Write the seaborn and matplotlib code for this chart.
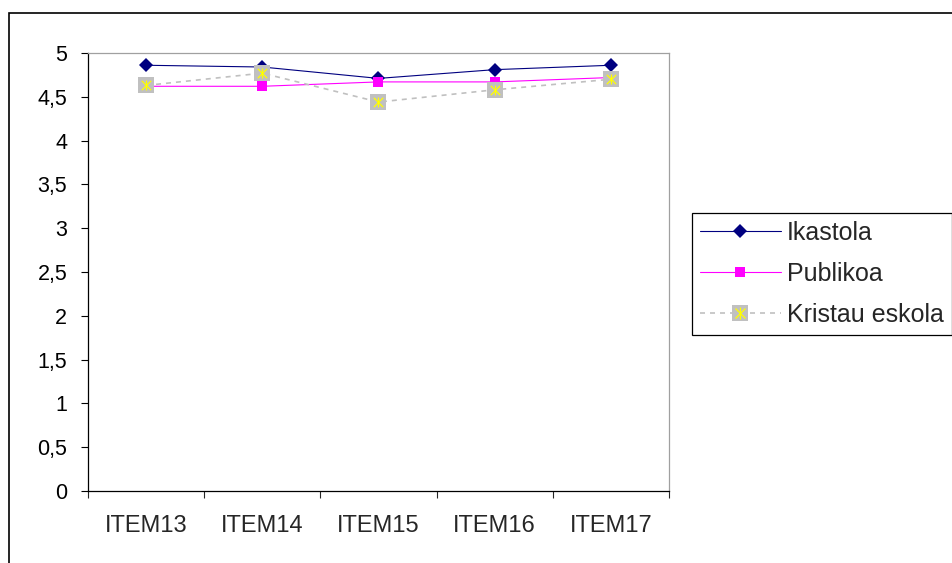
import pandas as pd
import matplotlib.pyplot as plt
import seaborn as sns
from matplotlib.lines import Line2D
from matplotlib.patches import Rectangle

items = ['ITEM13', 'ITEM14', 'ITEM15', 'ITEM16', 'ITEM17']
ikastola = [4.86, 4.84, 4.71, 4.81, 4.86]
publikoa = [4.62, 4.62, 4.67, 4.67, 4.72]
kristau = [4.63, 4.77, 4.44, 4.58, 4.70]
yticks = [0, 0.5, 1, 1.5, 2, 2.5, 3, 3.5, 4, 4.5, 5]
ylabels = ['0', '0,5', '1', '1,5', '2', '2,5', '3', '3,5', '4', '4,5', '5']

sns.set_style('white')
plt.rcParams['font.family'] = ['Liberation Sans', 'DejaVu Sans']

df = pd.DataFrame({'item': items, 'Ikastola': ikastola,
                   'Publikoa': publikoa, 'Kristau eskola': kristau})

fig = plt.figure(figsize=(9.53, 5.63), dpi=100)
ax = fig.add_axes([88/953, 1-491/563, (669-88)/953, (491-53)/563])

# outer chart frame (clipped on right and bottom like the original)
top = 1 - 13/563
fig.add_artist(Rectangle((9/953, -0.2), 1.2, top + 0.2, transform=fig.transFigure,
                         fill=False, edgecolor='black', linewidth=1.2))

sns.lineplot(data=df, x='item', y='Ikastola', ax=ax, color='#000080', linewidth=0.8,
             marker='D', markersize=7.5, markeredgewidth=0, zorder=3)
sns.lineplot(data=df, x='item', y='Publikoa', ax=ax, color='#FF00FF', linewidth=0.8,
             marker='s', markersize=6.5, markeredgewidth=0, zorder=4)
sns.lineplot(data=df, x='item', y='Kristau eskola', ax=ax, color='#C0C0C0', linewidth=1.2,
             linestyle=(0, (3, 3)), marker='s', markersize=11.5, markeredgewidth=0, zorder=5)
sns.scatterplot(data=df, x='item', y='Kristau eskola', ax=ax, color='#FFFF00', marker='x',
                s=45, linewidth=0.9, zorder=6)
sns.scatterplot(data=df, x='item', y='Kristau eskola', ax=ax, color='#FFFF00', marker='|',
                s=55, linewidth=0.9, zorder=6)

ax.set_xlim(-0.5, 4.5)
ax.set_ylim(0, 5)
ax.set_xlabel('')
ax.set_ylabel('')
ax.set_yticks(yticks)
ax.set_yticklabels(ylabels, fontsize=15.5)
ax.set_xticks([-0.5, 0.5, 1.5, 2.5, 3.5, 4.5])
ax.set_xticklabels([])
ax.set_xticks(range(5), minor=True)
ax.set_xticklabels(items, minor=True, fontsize=17)
ax.tick_params(axis='y', direction='out', length=5, width=0.8, pad=10, left=True, colors='black')
ax.tick_params(axis='x', which='major', direction='out', length=5, width=0.8, bottom=True)
ax.tick_params(axis='x', which='minor', length=0, pad=17)

for s in ['left', 'bottom']:
    ax.spines[s].set_color('black')
    ax.spines[s].set_linewidth(0.9)
for s in ['top', 'right']:
    ax.spines[s].set_color('#A0A0A0')
    ax.spines[s].set_linewidth(0.9)

h1 = Line2D([], [], color='#000080', linewidth=0.8, marker='D', markersize=7.5, markeredgewidth=0)
h2 = Line2D([], [], color='#FF00FF', linewidth=0.8, marker='s', markersize=6.5, markeredgewidth=0)
h3a = Line2D([], [], color='#C0C0C0', linewidth=1.2, linestyle=(0, (3, 3)), marker='s',
             markersize=11.5, markeredgewidth=0)
h3b = Line2D([], [], color='#FFFF00', linestyle='', marker='x', markersize=7, markeredgewidth=0.9)
h3c = Line2D([], [], color='#FFFF00', linestyle='', marker='|', markersize=8, markeredgewidth=0.9)
leg = fig.legend([h1, h2, (h3a, h3b, h3c)], ['Ikastola', 'Publikoa', 'Kristau eskola'],
                 loc='upper left', bbox_to_anchor=(692/953, 1-213/563), borderaxespad=0,
                 fontsize=18, handlelength=3.24, handletextpad=0.24, borderpad=0.32,
                 labelspacing=0.68, frameon=True, fancybox=False, framealpha=1)
leg.get_frame().set_edgecolor('black')
leg.get_frame().set_linewidth(0.9)

fig.savefig('out.png', dpi=100)
